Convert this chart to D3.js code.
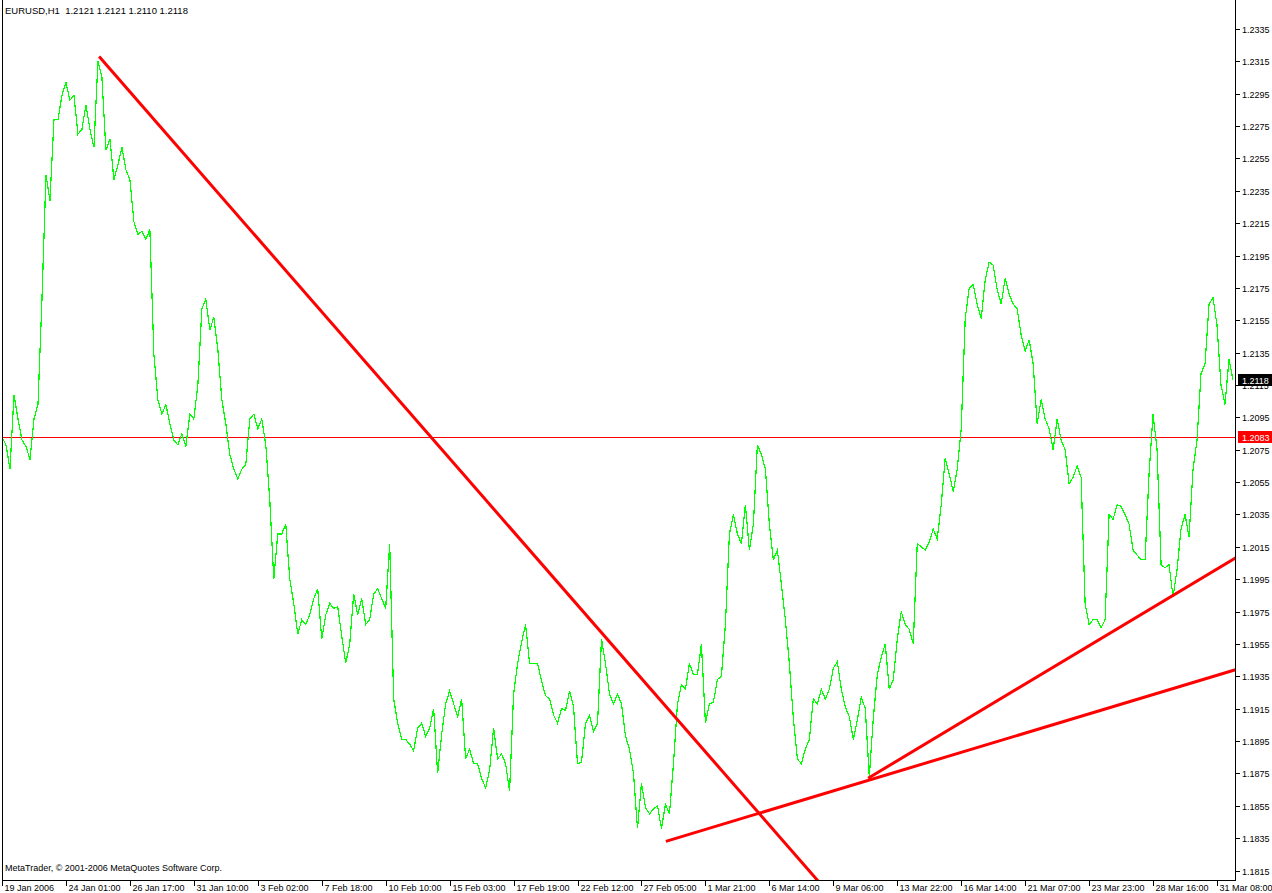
<!DOCTYPE html>
<html><head><meta charset="utf-8">
<script src="https://cdn.jsdelivr.net/npm/d3@7"></script>
<style>
html,body{margin:0;padding:0;background:#fff;}
svg{display:block;font-family:"Liberation Sans",Arial,sans-serif;}
</style></head><body>
<svg id="chart" width="1272" height="893"></svg>
<script>
const symbolTitle = "EURUSD,H1  1.2121 1.2121 1.2110 1.2118";
const copyrightText = "MetaTrader, \u00A9 2001-2006 MetaQuotes Software Corp.";

// hourly closes, sampled every 4 bars (19 Jan 2006 -> 31 Mar 2006)
const closes = [
1.2083,1.2078,1.2063,1.2109,1.2094,1.2081,1.2077,1.2069,1.2094,1.2103,1.2168,1.2245,1.2229,1.2279,1.2279,1.2294,
1.2302,1.2291,1.2294,1.2270,1.2273,1.2288,1.2273,1.2262,1.2315,1.2305,1.2260,1.2267,1.2242,1.2251,1.2262,1.2248,
1.2242,1.2216,1.2208,1.2210,1.2205,1.2211,1.2134,1.2106,1.2097,1.2103,1.2091,1.2081,1.2078,1.2085,1.2077,1.2097,
1.2094,1.2115,1.2162,1.2168,1.2149,1.2157,1.2137,1.2106,1.2091,1.2072,1.2063,1.2057,1.2063,1.2066,1.2094,1.2097,
1.2088,1.2094,1.2078,1.2044,1.1995,1.2023,1.2023,1.2029,1.1995,1.1980,1.1961,1.1970,1.1967,1.1973,1.1983,1.1989,
1.1958,1.1973,1.1980,1.1977,1.1978,1.1960,1.1943,1.1955,1.1986,1.1973,1.1983,1.1967,1.1970,1.1986,1.1989,1.1983,
1.1977,1.2017,1.1921,1.1906,1.1896,1.1896,1.1893,1.1889,1.1903,1.1906,1.1898,1.1903,1.1915,1.1875,1.1899,1.1918,
1.1926,1.1918,1.1910,1.1921,1.1884,1.1890,1.1881,1.1881,1.1872,1.1866,1.1877,1.1903,1.1884,1.1887,1.1881,1.1864,
1.1924,1.1943,1.1956,1.1967,1.1943,1.1943,1.1943,1.1932,1.1923,1.1921,1.1911,1.1906,1.1915,1.1914,1.1926,1.1916,
1.1881,1.1882,1.1906,1.1911,1.1901,1.1906,1.1958,1.1943,1.1924,1.1918,1.1924,1.1918,1.1898,1.1890,1.1875,1.1841,
1.1869,1.1854,1.1850,1.1853,1.1855,1.1841,1.1856,1.1850,1.1881,1.1918,1.1930,1.1927,1.1943,1.1936,1.1936,1.1955,
1.1906,1.1918,1.1919,1.1933,1.1935,1.1967,1.2023,1.2035,1.2023,1.2017,1.2041,1.2013,1.2029,1.2078,1.2072,1.2063,
1.2029,1.2007,1.2013,1.1992,1.1970,1.1943,1.1909,1.1884,1.1881,1.1890,1.1896,1.1921,1.1918,1.1927,1.1921,1.1927,
1.1940,1.1944,1.1927,1.1916,1.1910,1.1896,1.1908,1.1922,1.1915,1.1873,1.1909,1.1936,1.1947,1.1955,1.1927,1.1933,
1.1958,1.1975,1.1967,1.1964,1.1955,1.2017,1.2015,1.2013,1.2018,1.2026,1.2020,1.2041,1.2070,1.2060,1.2049,1.2063,
1.2088,1.2156,1.2175,1.2177,1.2165,1.2156,1.2180,1.2191,1.2189,1.2174,1.2165,1.2181,1.2171,1.2165,1.2162,1.2146,
1.2136,1.2143,1.2128,1.2091,1.2106,1.2094,1.2088,1.2075,1.2094,1.2081,1.2075,1.2054,1.2058,1.2065,1.2058,1.1980,
1.1967,1.1970,1.1970,1.1965,1.1970,1.2035,1.2032,1.2041,1.2040,1.2035,1.2029,1.2013,1.2010,1.2007,1.2007,1.2060,
1.2097,1.2075,1.2004,1.2002,1.2004,1.1984,1.2001,1.2026,1.2035,1.2021,1.2063,1.2081,1.2122,1.2128,1.2165,1.2169,
1.2152,1.2115,1.2103,1.2131,1.2118
];

const timeLabels = ["19 Jan 2006","24 Jan 01:00","26 Jan 17:00","31 Jan 10:00","3 Feb 02:00","7 Feb 18:00",
"10 Feb 10:00","15 Feb 03:00","17 Feb 19:00","22 Feb 12:00","27 Feb 05:00","1 Mar 21:00","6 Mar 14:00",
"9 Mar 06:00","13 Mar 22:00","16 Mar 14:00","21 Mar 07:00","23 Mar 23:00","28 Mar 16:00","31 Mar 08:00"];
const timeLabelIndex = [0,16,32,48,64,80,96,112,128,144,160,176,192,208,224,240,256,272,288,304];

const priceTicks = [1.2335,1.2315,1.2295,1.2275,1.2255,1.2235,1.2215,1.2195,1.2175,1.2155,1.2135,1.2115,
1.2095,1.2075,1.2055,1.2035,1.2015,1.1995,1.1975,1.1955,1.1935,1.1915,1.1895,1.1875,1.1855,1.1835,1.1815];

const levelPrice = 1.2083;
const lastPrice = 1.2118;

// trend lines: anchor index / price, drawn as rays from first anchor through second
const trendStartIdx = [24.3, 166.1, 216.7];
const trendStartPrice = [1.2318, 1.1833, 1.1872];
const trendEndIdx = [196.6, 308.5, 308.5];
const trendEndPrice = [1.1830, 1.1939, 1.2008];

const W = 1272, H = 893;
const plotL = 2, plotR = 1235, plotB = 880;
const svg = d3.select("#chart");

const x = d3.scaleLinear().domain([0, closes.length - 1]).range([2, 1233]);
const y = d3.scaleLinear().domain([1.2335, 1.1815]).range([29, 870.5]);

svg.append("rect").attr("width", W).attr("height", H).attr("fill", "#fff");

svg.append("defs").append("clipPath").attr("id", "plotclip")
  .append("rect").attr("x", plotL).attr("y", 0).attr("width", plotR - plotL).attr("height", plotB);

const plot = svg.append("g").attr("clip-path", "url(#plotclip)");

// horizontal level (1px red)
plot.append("rect")
  .attr("x", plotL).attr("width", plotR - plotL)
  .attr("y", Math.round(y(levelPrice))).attr("height", 1)
  .attr("fill", "#ff0000");

// price line
const line = d3.line().x((d, i) => x(i)).y(d => y(d));
plot.append("path").datum(closes)
  .attr("d", line)
  .attr("fill", "none").attr("stroke", "#00ff00").attr("stroke-width", 1.2)
  .attr("shape-rendering", "crispEdges");

// trend lines (rays)
trendStartIdx.forEach((i0, k) => {
  const p0 = trendStartPrice[k], i1 = trendEndIdx[k], p1 = trendEndPrice[k];
  const slope = (p1 - p0) / (i1 - i0);
  const iFar = i0 + 400;
  plot.append("line")
    .attr("x1", x(i0)).attr("y1", y(p0))
    .attr("x2", x(iFar)).attr("y2", y(p0 + slope * 400))
    .attr("stroke", "#ff0000").attr("stroke-width", 3)
    .attr("stroke-linecap", "butt");
});

// frame
svg.append("line").attr("x1", plotL + 0.5).attr("x2", plotL + 0.5).attr("y1", 0).attr("y2", plotB)
  .attr("stroke", "#000").attr("shape-rendering", "crispEdges");
svg.append("line").attr("x1", plotR + 0.5).attr("x2", plotR + 0.5).attr("y1", 0).attr("y2", plotB + 1)
  .attr("stroke", "#000").attr("shape-rendering", "crispEdges");
svg.append("line").attr("x1", plotL).attr("x2", plotR + 1).attr("y1", plotB + 0.5).attr("y2", plotB + 0.5)
  .attr("stroke", "#000").attr("shape-rendering", "crispEdges");

// right price axis
const yAxis = svg.append("g");
priceTicks.forEach(p => {
  const yy = Math.round(y(p)) + 0.5;
  yAxis.append("line").attr("x1", plotR + 1).attr("x2", plotR + 5).attr("y1", yy).attr("y2", yy)
    .attr("stroke", "#000").attr("shape-rendering", "crispEdges");
  yAxis.append("text").attr("x", 1242).attr("y", yy + 3.5)
    .attr("font-size", "9px").attr("fill", "#000").text(p.toFixed(4));
});

function priceTag(price, fill) {
  const yy = y(price);
  yAxis.append("rect").attr("x", 1238).attr("y", Math.round(yy) - 6).attr("width", 34).attr("height", 12)
    .attr("fill", fill);
  yAxis.append("text").attr("x", 1242).attr("y", Math.round(yy) + 4)
    .attr("font-size", "9px").attr("fill", "#fff").text(price.toFixed(4));
}
priceTag(lastPrice, "#000");
priceTag(levelPrice, "#ff0000");

// bottom time axis
const xAxis = svg.append("g");
timeLabelIndex.forEach((idx, k) => {
  const xx = Math.round(x(idx)) + 0.5;
  xAxis.append("line").attr("x1", xx).attr("x2", xx).attr("y1", plotB).attr("y2", plotB + 6)
    .attr("stroke", "#000").attr("shape-rendering", "crispEdges");
  xAxis.append("text").attr("x", xx + 2).attr("y", 891)
    .attr("font-size", "9px").attr("fill", "#000").text(timeLabels[k]);
});

// texts
svg.append("text").attr("x", 5).attr("y", 14).attr("font-size", "9.5px").attr("fill", "#000")
  .attr("xml:space", "preserve").style("white-space", "pre").text(symbolTitle);
svg.append("text").attr("x", 5).attr("y", 871).attr("font-size", "9px").attr("fill", "#000")
  .text(copyrightText);
</script>
</body></html>
